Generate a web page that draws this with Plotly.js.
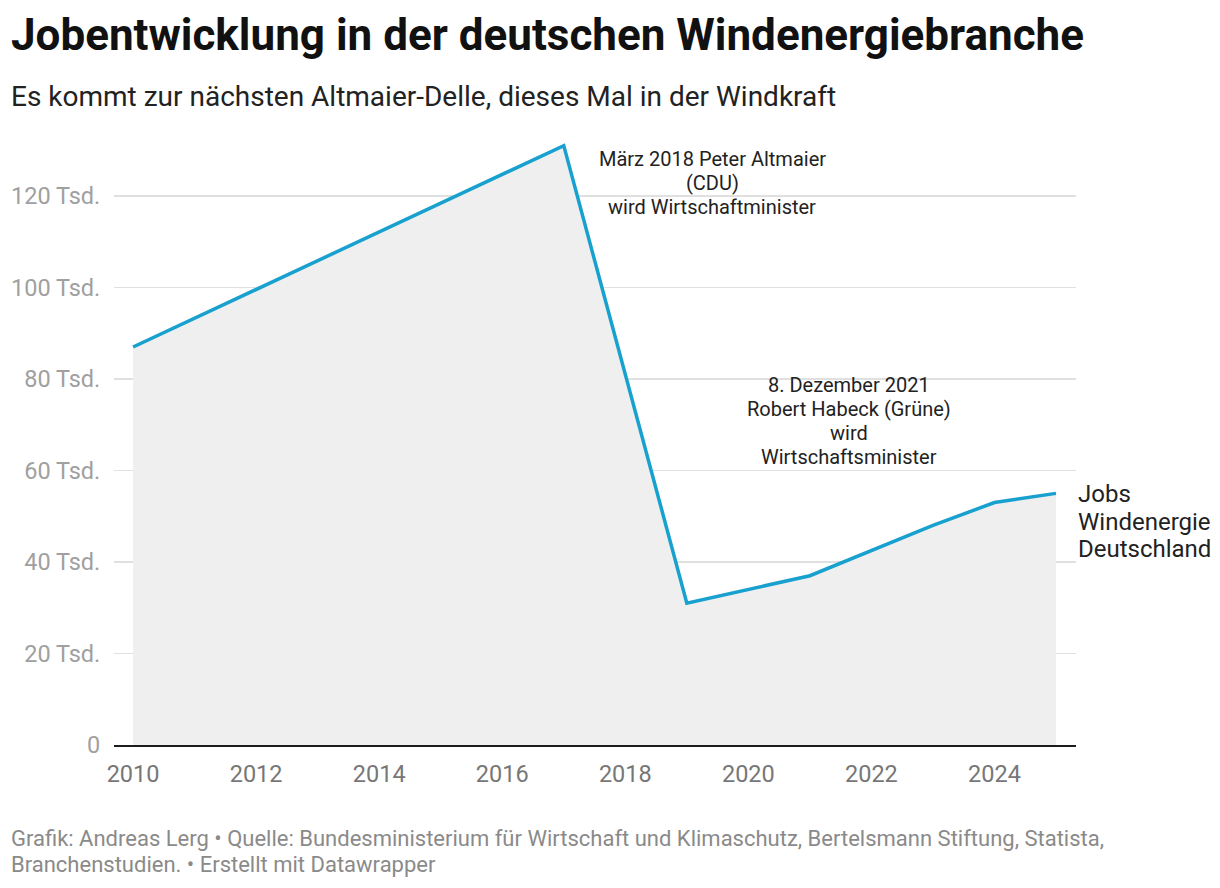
<!DOCTYPE html>
<html>
<head>
<meta charset="utf-8">
<script src="https://cdn.plot.ly/plotly-3.0.1.min.js"></script>
<style>html,body{margin:0;padding:0;background:#fff;}#chart{width:1220px;height:888px;}</style>
</head>
<body>
<div id="chart"></div>
<script>
const years = [2010, 2017, 2019, 2021, 2023, 2024, 2025];
const jobs = [87000, 131000, 31000, 37000, 48000, 53000, 55000];
const yTickVals = [0, 20000, 40000, 60000, 80000, 100000, 120000];
const yTickText = ["0", "20 Tsd.", "40 Tsd.", "60 Tsd.", "80 Tsd.", "100 Tsd.", "120 Tsd."];
const xTickVals = [2010, 2012, 2014, 2016, 2018, 2020, 2022, 2024];
const seriesLabelLines = ["Jobs", "Windenergie", "Deutschland"];
const note1Lines = ["März 2018 Peter Altmaier", "(CDU)", "wird Wirtschaftminister"];
const note2Lines = ["8. Dezember 2021", "Robert Habeck (Grüne)", "wird", "Wirtschaftsminister"];
const titleText = "Jobentwicklung in der deutschen Windenergiebranche";
const subtitleText = "Es kommt zur nächsten Altmaier-Delle, dieses Mal in der Windkraft";
const footerLines = [
  "Grafik: Andreas Lerg • Quelle: Bundesministerium für Wirtschaft und Klimaschutz, Bertelsmann Stiftung, Statista,",
  "Branchenstudien. • Erstellt mit Datawrapper"
];

const FONT = "Roboto, 'Noto Sans', sans-serif";
const L = 114, R = 1076, T = 140, B = 745;
const px = v => (v - L) / (R - L);
const py = v => (B - v) / (B - T);
const yAt = v => (B - v) / (B - T) * 132240; // pixel to data value (layout helper)
const xAt = v => 2009.69 + (v - L) / (R - L) * (2025.325 - 2009.69);

const trace = {
  x: years, y: jobs, type: 'scatter', mode: 'lines',
  fill: 'tozeroy', fillcolor: '#efefef',
  line: { color: '#18a1cf', width: 3.5 },
  hoverinfo: 'skip'
};

const ann = [];
ann.push({ xref: 'paper', yref: 'paper', x: px(9), y: py(35), xanchor: 'left', yanchor: 'middle',
  text: '<b>' + titleText + '</b>', showarrow: false, font: { size: 44, color: '#111', family: FONT } });
ann.push({ xref: 'paper', yref: 'paper', x: px(9), y: py(97), xanchor: 'left', yanchor: 'middle',
  text: subtitleText, showarrow: false, font: { size: 28, color: '#222', family: FONT } });
footerLines.forEach((t, i) => ann.push({ xref: 'paper', yref: 'paper', x: px(9), y: py(838 + 26 * i),
  xanchor: 'left', yanchor: 'middle', text: t, showarrow: false, font: { size: 22, color: '#8a8a8a', family: FONT } }));
note1Lines.forEach((t, i) => ann.push({ xref: 'x', yref: 'y', x: xAt(712), y: yAt(159 + 24 * i),
  xanchor: 'center', yanchor: 'middle', text: t, showarrow: false, font: { size: 20, color: '#222', family: FONT } }));
note2Lines.forEach((t, i) => ann.push({ xref: 'x', yref: 'y', x: xAt(849), y: yAt(385 + 24 * i),
  xanchor: 'center', yanchor: 'middle', text: t, showarrow: false, font: { size: 20, color: '#222', family: FONT } }));
seriesLabelLines.forEach((t, i) => ann.push({ xref: 'paper', yref: 'y', x: 1, y: yAt(494 + 27.5 * i),
  xanchor: 'left', yanchor: 'middle', text: t, showarrow: false, font: { size: 24, color: '#222', family: FONT } }));

const layout = {
  width: 1220, height: 888,
  margin: { l: L, r: 1220 - R, t: T, b: 888 - B },
  paper_bgcolor: '#fff', plot_bgcolor: '#fff',
  showlegend: false,
  font: { family: FONT },
  xaxis: {
    range: [2009.69, 2025.325],
    tickvals: xTickVals,
    ticks: 'outside', ticklen: 7, tickcolor: 'rgba(0,0,0,0)',
    tickfont: { size: 23.5, color: '#777', family: FONT },
    showgrid: false, zeroline: false,
    showline: true, linecolor: '#1d1d1d', linewidth: 2,
    fixedrange: true
  },
  yaxis: {
    range: [0, 132240],
    tickvals: yTickVals, ticktext: yTickText,
    ticks: 'outside', ticklen: 8, tickcolor: 'rgba(0,0,0,0)',
    tickfont: { size: 23.5, color: '#a0a0a0', family: FONT },
    showgrid: true, gridcolor: '#e0e0e0', gridwidth: 1.3,
    zeroline: false, showline: false,
    fixedrange: true
  },
  annotations: ann
};

Plotly.newPlot('chart', [trace], layout, { staticPlot: true, displayModeBar: false });
</script>
</body>
</html>
